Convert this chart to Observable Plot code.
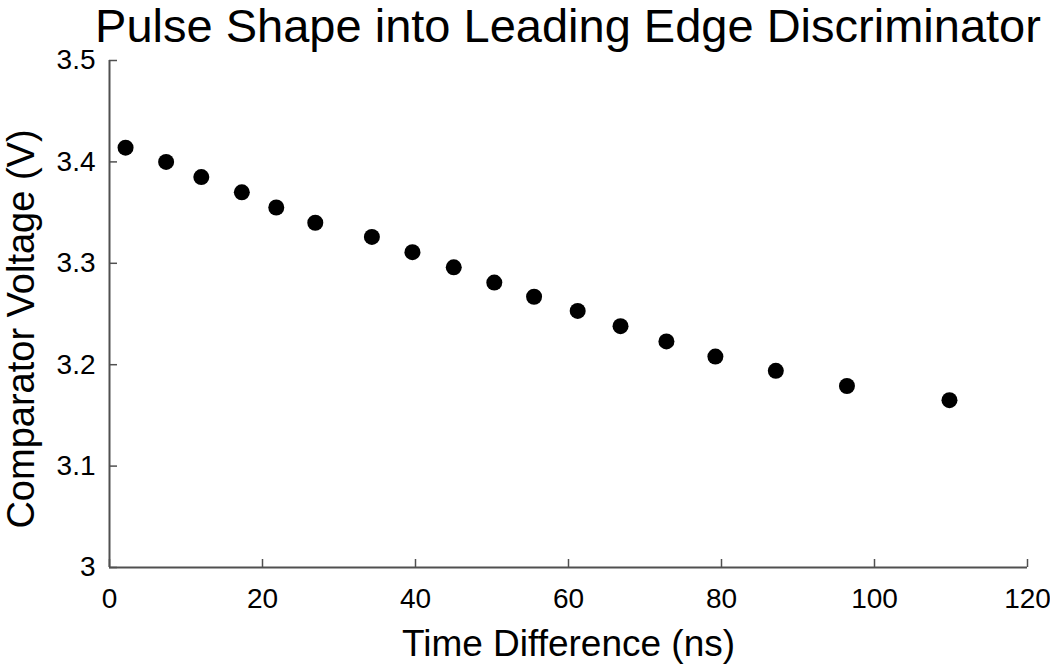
<!DOCTYPE html>
<html>
<head>
<meta charset="utf-8">
<script src="https://cdn.jsdelivr.net/npm/d3@7"></script>
<script src="https://cdn.jsdelivr.net/npm/@observablehq/plot@0.6"></script>
<style>
  html, body { margin: 0; padding: 0; background: #fff; }
  #wrap { position: relative; width: 1050px; height: 668px; font-family: "Liberation Sans", Arial, sans-serif; }
  #title { position: absolute; left: 0; top: 0; width: 1136px; text-align: center; font-size: 47px; line-height: 52px; color: #000; white-space: nowrap; }
  #chart { position: absolute; left: 0; top: 0; }
</style>
</head>
<body>
<div id="wrap">
  <div id="chart"></div>
  <div id="title">Pulse Shape into Leading Edge Discriminator</div>
</div>
<script>
const timeDiff = [2.1, 7.4, 12.0, 17.3, 21.8, 26.9, 34.3, 39.6, 45.0, 50.3, 55.5, 61.2, 66.8, 72.8, 79.2, 87.1, 96.4, 109.8];
const voltage  = [3.414, 3.400, 3.385, 3.370, 3.355, 3.340, 3.326, 3.311, 3.296, 3.281, 3.267, 3.253, 3.238, 3.223, 3.208, 3.194, 3.179, 3.165];
const xTicks = [0, 20, 40, 60, 80, 100, 120];
const yTicks = [3, 3.1, 3.2, 3.3, 3.4, 3.5];
const xLabel = "Time Difference (ns)";
const yLabel = "Comparator Voltage (V)";

const points = timeDiff.map((t, i) => ({t, v: voltage[i]}));
const axisColor = "#505050";

const plot = Plot.plot({
  width: 1050,
  height: 668,
  marginLeft: 109,
  marginRight: 23,
  marginTop: 60,
  marginBottom: 101,
  style: {fontFamily: "'Liberation Sans', Arial, sans-serif", background: "#fff", overflow: "visible"},
  x: {domain: [0, 120]},
  y: {domain: [3, 3.5]},
  marks: [
    Plot.ruleY([3], {stroke: axisColor, strokeWidth: 2}),
    Plot.ruleX([0], {stroke: axisColor, strokeWidth: 2}),
    Plot.axisX(xTicks, {tickSize: 8, dy: -8, stroke: axisColor, strokeWidth: 1.5, tickFormat: () => "", label: null}),
    Plot.axisY(yTicks, {tickSize: 8, dx: 8, stroke: axisColor, strokeWidth: 1.5, tickFormat: () => "", label: null}),
    Plot.axisX(xTicks, {tickSize: 0, tickPadding: 21, fontSize: 28, fill: "#000", tickFormat: d => String(d), label: null}),
    Plot.axisY(yTicks, {tickSize: 0, tickPadding: 14, fontSize: 28, fill: "#000", tickFormat: d => String(d), label: null}),
    Plot.text([xLabel], {text: d => d, frameAnchor: "bottom", dy: 88, fontSize: 37, fill: "#000"}),
    Plot.text([yLabel], {text: d => d, frameAnchor: "left", textAnchor: "middle", rotate: -90, dx: -88, dy: 15, fontSize: 38, fill: "#000"}),
    Plot.dot(points, {x: "t", y: "v", r: 8, fill: "#000", stroke: null})
  ]
});
document.getElementById("chart").appendChild(plot);
</script>
</body>
</html>
